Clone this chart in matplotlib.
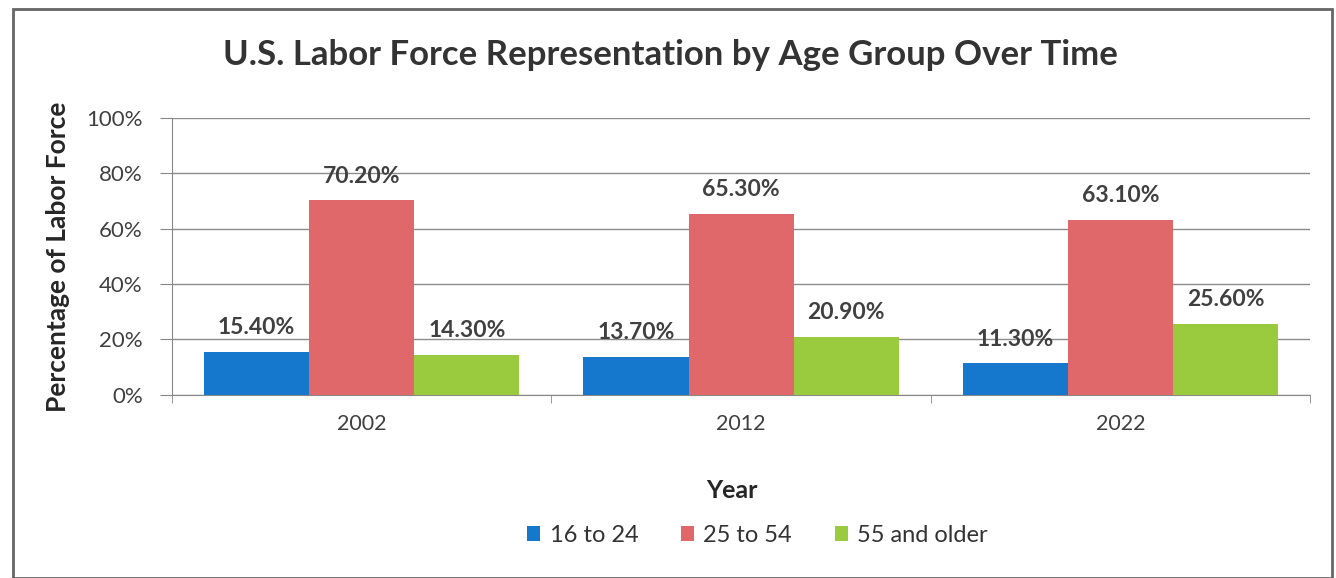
import numpy as np
import matplotlib.pyplot as plt
from matplotlib.patches import Rectangle

years = ["2002", "2012", "2022"]
groups = ["16 to 24", "25 to 54", "55 and older"]
age_16_24 = [15.4, 13.7, 11.3]
age_25_54 = [70.2, 65.3, 63.1]
age_55_up = [14.3, 20.9, 25.6]
colors = ["#1578cc", "#e0686b", "#9acb3e"]

plt.rcParams["font.family"] = ["Lato", "DejaVu Sans"]

fig = plt.figure(figsize=(13.36, 5.78), dpi=100)
ax = fig.add_axes([0.1287, 0.317, 0.852, 0.479])

x = np.arange(len(years))
w = 0.277
series = [age_16_24, age_25_54, age_55_up]
for i, (vals, name, c) in enumerate(zip(series, groups, colors)):
    bars = ax.bar(x + (i - 1) * w, vals, w, color=c, label=name, zorder=3)
    for b, v in zip(bars, vals):
        ax.text(b.get_x() + b.get_width() / 2, v + 5, f"{v:.2f}%",
                ha="center", va="bottom", fontsize=16.5, fontweight="bold",
                color="#404040", zorder=4)

ax.set_xlim(-0.5, 2.5)
ax.set_ylim(0, 100)
ax.set_yticks(range(0, 101, 20))
ax.set_yticklabels([f"{t}%" for t in range(0, 101, 20)], fontsize=16, color="#404040")
ax.set_xticks(x)
ax.set_xticklabels(years, fontsize=15.5, color="#404040")
ax.set_xticks([-0.5, 0.5, 1.5, 2.5], minor=True)
ax.tick_params(axis="x", which="major", length=0, pad=14)
ax.tick_params(axis="x", which="minor", length=6, color="#888888", direction="out")
ax.tick_params(axis="y", length=9, color="#888888", pad=12)
ax.grid(axis="y", color="#8c8c8c", linewidth=1, zorder=0)
for s in ["top", "right"]:
    ax.spines[s].set_visible(False)
ax.spines["left"].set_color("#888888")
ax.spines["bottom"].set_color("#888888")

ax.set_ylabel("Percentage of Labor Force", fontsize=19, fontweight="bold",
              color="#262626", labelpad=12)
fig.text(0.548, 0.152, "Year", ha="center", va="center", fontsize=18,
         fontweight="bold", color="#262626")
fig.text(0.502, 0.905, "U.S. Labor Force Representation by Age Group Over Time",
         ha="center", va="center", fontsize=25, fontweight="bold", color="#333333")

leg = fig.legend(loc="center", bbox_to_anchor=(0.567, 0.073), ncol=3, frameon=False,
                 fontsize=17, handlelength=0.55, handleheight=0.6, handletextpad=0.4,
                 columnspacing=1.8)
for t in leg.get_texts():
    t.set_color("#333333")

fig.patches.append(Rectangle((0.01, 0.0), 0.987, 0.985, transform=fig.transFigure,
                             fill=False, edgecolor="#666666", linewidth=2))

fig.savefig("out.png", dpi=100)
